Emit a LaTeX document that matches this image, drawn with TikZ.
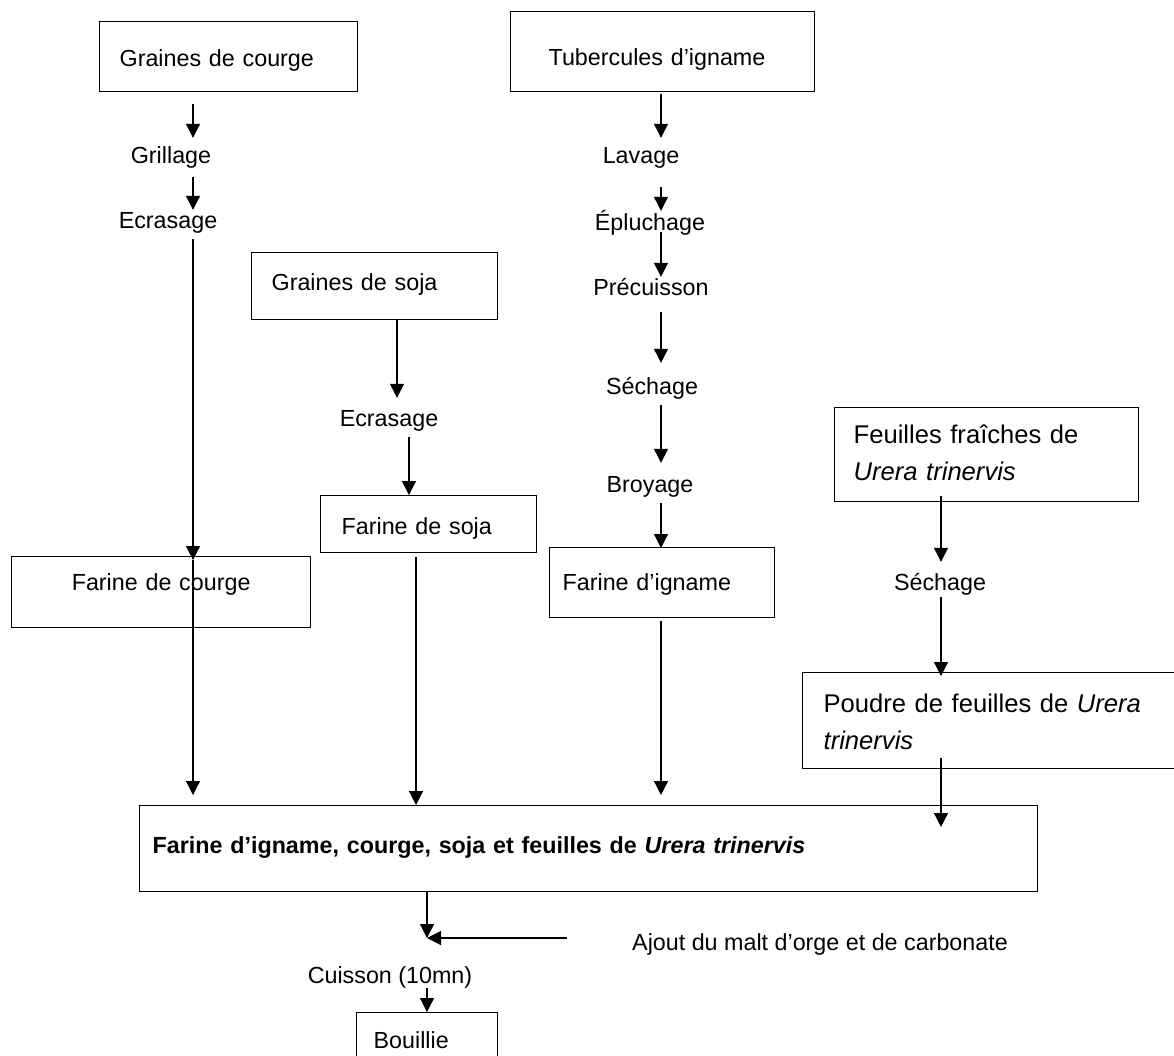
\documentclass[tikz,border=0pt]{standalone}
\usepackage{fontspec}
\setmainfont{Liberation Sans}
\usepackage{tikz}
\usetikzlibrary{arrows.meta}

\begin{document}
\begin{tikzpicture}[x=1pt, y=-1pt,
  font=\fontsize{23.3}{27}\selectfont,
  box/.style={draw, line width=1.3pt, anchor=north west, inner ysep=0pt, align=left},
  leafbox/.style={box, font=\fontsize{25.6}{36.7}\selectfont},
  stage/.style={inner sep=0pt, anchor=base, text height=20pt, text depth=6pt},
  arr/.style={line width=1.2pt, -{Triangle[length=14pt, width=14pt]}}]
\fill[white] (0,0) rectangle (1174,1055);
\useasboundingbox (0,0) rectangle (1174,1055);
\coordinate (cA) at (193,0);
\coordinate (cS) at (397,0);
\coordinate (cT) at (409,0);
\coordinate (cU) at (416,0);
\coordinate (cI) at (661,0);
\coordinate (cF) at (941,0);
\coordinate (cM) at (427,0);
\coordinate (malt) at (567,938);

% raw materials
\node[box, inner xsep=20pt, text width=218pt, text height=45pt, text depth=25pt] (courge) at (99,21) {Graines de courge};
\node[box, inner xsep=38pt, text width=228pt, text height=54pt, text depth=26pt] (tuber) at (510,11) {Tubercules d’igname};
\node[box, inner xsep=20pt, text width=206pt, text height=38pt, text depth=29pt] (soja) at (251,252) {Graines de soja};
\node[leafbox, inner xsep=19pt, text width=266pt, text height=36pt, text depth=58pt] (feuilles) at (834,407) {Feuilles fraîches de\\\textit{Urera trinervis}};

% flours
\node[box, inner xsep=10pt, text width=279pt, text height=34pt, text depth=37pt, align=center] (farCourge) at (11,556) {Farine de courge};
\node[box, inner xsep=21pt, text width=174pt, text height=39pt, text depth=18pt] (farSoja) at (320,495) {Farine de soja};
\node[box, inner xsep=13pt, text width=199pt, text height=43pt, text depth=27pt] (farIgname) at (549,547) {Farine d’igname};
\node[leafbox, inner xsep=21pt, text width=346pt, text height=40pt, text depth=56pt] (poudre) at (802,672) {Poudre de feuilles de \textit{Urera}\\\textit{trinervis}};
\node[box, inner xsep=13pt, text width=872pt, text height=48pt, text depth=38pt] (melange) at (139,805) {\textbf{Farine d’igname, courge, soja et feuilles de \textit{Urera trinervis}}};
\node[box, inner xsep=17pt, text width=107pt, text height=36pt, text depth=30pt] (bouillie) at (356,1012) {Bouillie};

% steps
\node[stage] (grillage) at (171,163) {Grillage};
\node[stage] (ecrasA) at (168,228) {Ecrasage};
\node[stage] (ecrasB) at (389,426) {Ecrasage};
\node[stage] (lavage) at (641,163) {Lavage};
\node[stage] (epluchage) at (650,230) {Épluchage};
\node[stage] (precuisson) at (651,295) {Précuisson};
\node[stage] (sechI) at (652,394) {Séchage};
\node[stage] (broyage) at (650,492) {Broyage};
\node[stage] (sechF) at (940,590) {Séchage};
\node[stage] (cuisson) at (390,983) {Cuisson (10mn)};
\node[stage, anchor=base west] (ajout) at (632,950) {Ajout du malt d’orge et de carbonate};

% courge
\draw[arr, shorten <=12pt, shorten >=5pt] (courge.south -| cA) -- (grillage.north -| cA);
\draw[arr, shorten <=8pt, shorten >=-2pt] (grillage.south -| cA) -- (ecrasA.north -| cA);
\draw[arr, shorten <=5pt, shorten >=-4pt] (ecrasA.south -| cA) -- (farCourge.north -| cA);
\draw[arr, shorten <=4pt, shorten >=10pt] (farCourge.north -| cA) -- (melange.north -| cA);

% soja
\draw[arr, shorten >=8pt] (soja.south -| cS) -- (ecrasB.north -| cS);
\draw[arr, shorten <=5pt] (ecrasB.south -| cT) -- (farSoja.north -| cT);
\draw[arr, shorten <=4pt] (farSoja.south -| cU) -- (melange.north -| cU);

% igname
\draw[arr, shorten <=2pt, shorten >=5pt] (tuber.south -| cI) -- (lavage.north -| cI);
\draw[arr, shorten <=18pt, shorten >=-1pt] (lavage.south -| cI) -- (epluchage.north -| cI);
\draw[arr, shorten <=-4pt, shorten >=-2pt] (epluchage.south -| cI) -- (precuisson.north -| cI);
\draw[arr, shorten <=11pt, shorten >=11pt] (precuisson.south -| cI) -- (sechI.north -| cI);
\draw[arr, shorten <=5pt, shorten >=9pt] (sechI.south -| cI) -- (broyage.north -| cI);
\draw[arr, shorten <=5pt, shorten >=-1pt] (broyage.south -| cI) -- (farIgname.north -| cI);
\draw[arr, shorten <=3pt, shorten >=10pt] (farIgname.south -| cI) -- (melange.north -| cI);

% feuilles
\draw[arr, shorten <=-6pt, shorten >=8pt] (feuilles.south -| cF) -- (sechF.north -| cF);
\draw[arr, shorten <=1pt, shorten >=-4pt] (sechF.south -| cF) -- (poudre.north -| cF);
\draw[arr, shorten <=-11pt, shorten >=-22pt] (poudre.south -| cF) -- (melange.north -| cF);

% bouillie
\draw[arr] (melange.south -| cM) -- (malt -| cM);
\draw[arr] (malt) -- (malt -| cM);
\draw[arr, shorten <=-1pt] (cuisson.south -| cM) -- (bouillie.north -| cM);
\end{tikzpicture}
\end{document}
